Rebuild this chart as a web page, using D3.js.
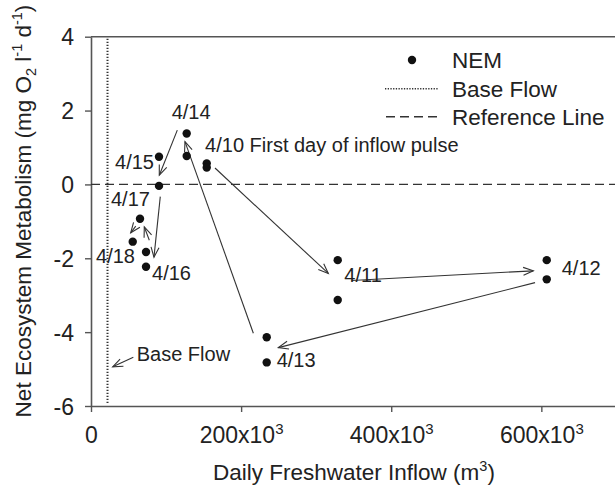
<!DOCTYPE html>
<html><head><meta charset="utf-8">
<script src="https://cdn.jsdelivr.net/npm/d3@7"></script>
<style>
html,body{margin:0;padding:0;background:#fff;}
text{font-family:"Liberation Sans",Arial,sans-serif;fill:#222;}
</style></head>
<body><svg id="chart" width="615" height="489"></svg>
<script>
// ---- data ----
const dates  = ["4/10","4/10","4/11","4/11","4/12","4/12","4/13","4/13","4/14","4/14","4/15","4/15","4/16","4/16","4/17","4/18"];
const inflow = [154200,154200,328700,328700,607200,607200,234100,234100,127500,127500,90600,90600,73300,73300,65300,55600];
const nem    = [0.57,0.46,-2.05,-3.13,-2.05,-2.57,-4.14,-4.82,1.38,0.77,0.75,-0.04,-1.83,-2.23,-0.93,-1.55];
const baseFlow = 22000;
const xTicks = [0,200000,400000,600000];
const xTickLabels = ["0","200x10","400x10","600x10"];
const yTicks = [4,2,0,-2,-4,-6];
// arrows: [x0,y0,x1,y1] in data units (tail -> head)
const arrows = [
  [165200,0.445,316200,-2.41],
  [347400,-2.60,589300,-2.34],
  [591600,-2.66,249600,-4.42],
  [216300,-4.03,125200,1.16],
  [115000,1.47,91000,0.25],
  [92300,-0.33,83900,-1.97],
  [77700,-1.51,71000,-1.15],
  [59600,-1.13,52900,-1.31],
  [56400,-4.68,28900,-4.94]
];
const labelText = ["4/14","4/10 First day of inflow pulse","4/15","4/17","4/18","4/16","4/11","4/12","4/13","Base Flow"];
const labelX = [107500,152000,32000,26600,6700,81300,337500,627200,247400,60900];
const labelY = [1.77,0.885,0.43,-0.585,-2.14,-2.575,-2.635,-2.45,-4.94,-4.77];
const legendItems = ["NEM","Base Flow","Reference Line"];

// ---- layout ----
const svg = d3.select("#chart");
const L = 91, T = 36.7, B = 406, R = 616.4;
const x = d3.scaleLinear().domain([0,700000]).range([L,R]);
const y = d3.scaleLinear().domain([-6,4]).range([B,T]);
const axisColor = "#555";

// markers
const defs = svg.append("defs");
defs.append("marker").attr("id","ah").attr("viewBox","-12 -6 14 12")
  .attr("refX",0).attr("refY",0).attr("markerWidth",14).attr("markerHeight",12)
  .attr("markerUnits","userSpaceOnUse").attr("orient","auto")
  .append("path").attr("d","M-10,-4 L0,0 L-10,4").attr("fill","none").attr("stroke","#333").attr("stroke-width",1.1);

// top frame
svg.append("line").attr("x1",L).attr("x2",615).attr("y1",T).attr("y2",T)
  .attr("stroke",axisColor).attr("stroke-width",1.6);

// x axis
const gx = svg.append("g").attr("transform",`translate(0,${B})`)
  .call(d3.axisBottom(x).tickValues(xTicks).tickSize(6).tickSizeOuter(0).tickPadding(4));
gx.select(".domain").attr("stroke",axisColor).attr("stroke-width",1.6);
gx.selectAll(".tick line").attr("stroke",axisColor).attr("stroke-width",1.4);
gx.selectAll(".tick text").each(function(d,i){
  const t = d3.select(this);
  t.text(null).attr("font-size",23).attr("fill","#222").attr("dy",null).attr("y",37.3);
  t.append("tspan").text(xTickLabels[i]);
  if(i>0) t.append("tspan").text("3").attr("font-size",15).attr("dy",-9);
});

// y axis
const gy = svg.append("g").attr("transform",`translate(${L},0)`)
  .call(d3.axisLeft(y).tickValues(yTicks).tickSize(6).tickSizeOuter(0).tickPadding(11).tickFormat(d3.format("d")));
gy.select(".domain").attr("stroke",axisColor).attr("stroke-width",1.6);
gy.selectAll(".tick line").attr("stroke",axisColor).attr("stroke-width",1.4);
gy.selectAll(".tick text").attr("font-size",23).attr("fill","#222").attr("dy","0.36em")
  .text(d => d < 0 ? "-" + Math.abs(d) : d);

// reference line
svg.append("line").attr("x1",L).attr("x2",615).attr("y1",y(0)).attr("y2",y(0))
  .attr("stroke","#333").attr("stroke-width",1.4).attr("stroke-dasharray","9,5");
// base flow
svg.append("line").attr("x1",x(baseFlow)).attr("x2",x(baseFlow)).attr("y1",T+2).attr("y2",B-2)
  .attr("stroke","#333").attr("stroke-width",2).attr("stroke-dasharray","1.4,1.6");

// arrows
svg.append("g").selectAll("line").data(arrows).join("line")
  .attr("x1",d=>x(d[0])).attr("y1",d=>y(d[1])).attr("x2",d=>x(d[2])).attr("y2",d=>y(d[3]))
  .attr("stroke","#333").attr("stroke-width",1.1).attr("marker-end","url(#ah)");

// points
svg.append("g").selectAll("circle").data(inflow).join("circle")
  .attr("cx",(d)=>x(d)).attr("cy",(d,i)=>y(nem[i])).attr("r",4.2).attr("fill","#111");

// labels
svg.append("g").selectAll("text").data(labelText).join("text")
  .attr("x",(d,i)=>x(labelX[i])).attr("y",(d,i)=>y(labelY[i]))
  .attr("font-size",20).text(d=>d);

// legend
const lg = svg.append("g");
const rowY = [60, 88.7, 116.7];
legendItems.forEach((name,i)=>{
  if(i===0) lg.append("circle").attr("cx",412).attr("cy",rowY[i]).attr("r",4.2).attr("fill","#111");
  if(i===1) lg.append("line").attr("x1",385).attr("x2",438).attr("y1",rowY[i]).attr("y2",rowY[i])
    .attr("stroke","#333").attr("stroke-width",1.6).attr("stroke-dasharray","1.3,1.4");
  if(i===2) lg.append("line").attr("x1",386).attr("x2",437).attr("y1",rowY[i]).attr("y2",rowY[i])
    .attr("stroke","#333").attr("stroke-width",1.4).attr("stroke-dasharray","9,5");
  lg.append("text").attr("x",452).attr("y",rowY[i]+8.2).attr("font-size",22.5).text(name);
});

// axis titles
const xt = svg.append("text").attr("x",354).attr("y",480).attr("text-anchor","middle").attr("font-size",22.5);
xt.append("tspan").text("Daily Freshwater Inflow (m");
xt.append("tspan").text("3").attr("font-size",14.5).attr("dy",-9);
xt.append("tspan").text(")").attr("dy",9);

const yt = svg.append("text").attr("transform","translate(31,211) rotate(-90)").attr("text-anchor","middle").attr("font-size",22.5);
yt.append("tspan").text("Net Ecosystem Metabolism (mg O");
yt.append("tspan").text("2").attr("font-size",14.5).attr("dy",5);
yt.append("tspan").text(" l").attr("dy",-5);
yt.append("tspan").text("-1").attr("font-size",14.5).attr("dy",-9);
yt.append("tspan").text(" d").attr("dy",9);
yt.append("tspan").text("-1").attr("font-size",14.5).attr("dy",-9);
yt.append("tspan").text(")").attr("dy",9);
</script></body></html>
